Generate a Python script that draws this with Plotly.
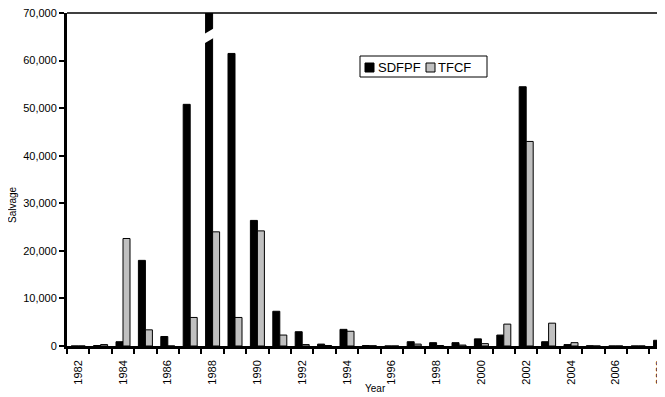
import plotly.graph_objects as go

years = list(range(1982, 2009))
sdfpf = [0, 100, 900, 18000, 2000, 50800, 120000, 61500, 26400, 7300, 3000, 400, 3500, 100,
         0, 900, 700, 700, 1500, 2300, 54500, 900, 300, 50, 0, 0, 1200]
tfcf = [0, 300, 22600, 3400, 0, 6000, 24000, 6000, 24200, 2300, 300, 100, 3100, 50,
        0, 400, 100, 200, 500, 4600, 43000, 4800, 700, 0, 0, 0, 0]
tick_years = list(range(1982, 2009, 2))
y_ticks = list(range(0, 70001, 10000))
series_names = ["SDFPF", "TFCF"]
series_colors = ["#000000", "#c0c0c0"]

BARGAP = 0.375
bar_w = (1 - BARGAP) / 2

fig = go.Figure()
for name, vals, col in zip(series_names, [sdfpf, tfcf], series_colors):
    fig.add_bar(x=years, y=vals, name=name, marker=dict(color=col, line=dict(color="#000000", width=1)))

# page body has an 8px offset; size the figure so the plot area lands at the reference position
OFF = 8
SW, SH = 665, 397           # screen size
PL, PR, PT, PB = 67, 665, 13, 346   # plot area in screen px
W, H = SW - OFF, SH - OFF
L, T = PL - OFF, PT - OFF
R = W - (PR - OFF)
B = H - (PB - OFF)
pw = PR - PL
ph = PB - PT
cat_px = 22.4


def px(sx):
    return (sx - PL) / pw


def py(sy):
    return (PB - sy) / ph


fig.update_layout(
    width=W, height=H,
    margin=dict(l=L, r=R, t=T, b=B, pad=0, autoexpand=False),
    paper_bgcolor="white", plot_bgcolor="white",
    barmode="group", bargap=BARGAP, bargroupgap=0,
    font=dict(family="Liberation Sans, Arial, sans-serif", color="black", size=11),
    showlegend=False,
    xaxis=dict(range=[years[0] - 0.5, years[0] - 0.5 + pw / cat_px], tickmode="array", tickvals=tick_years,
               ticktext=[str(y) for y in tick_years], tickangle=-90, ticks="outside", ticklen=7,
               tickcolor="rgba(0,0,0,0)", ticklabeloverflow="allow",
               showline=True, linecolor="black", linewidth=2.5, showgrid=False, zeroline=False,
               automargin=False, tickfont=dict(size=11),
               minor=dict(tickmode="array", tickvals=[y - 0.5 for y in years] + [years[-1] + 0.5],
                          ticks="outside", ticklen=5, tickwidth=2, tickcolor="black", showgrid=False)),
    yaxis=dict(range=[0, 70000], tickmode="array", tickvals=y_ticks, tickformat=",", ticks="outside",
               ticklen=5, tickwidth=2, tickcolor="black", showline=True, linecolor="black", linewidth=3,
               ticklabeloverflow="allow",
               showgrid=False, zeroline=False, automargin=False, tickfont=dict(size=11)),
)

annotations = [
    dict(text="Salvage", xref="paper", yref="paper", x=px(12), y=py(205),
         textangle=-90, showarrow=False, font=dict(size=10), xanchor="center", yanchor="middle"),
    dict(text="Year", xref="paper", yref="paper", x=px(375), y=py(396),
         showarrow=False, font=dict(size=10), xanchor="center", yanchor="bottom"),
]

shapes = [
    # top border line
    dict(type="line", xref="paper", yref="paper", x0=0, x1=1, y0=1, y1=1,
         line=dict(color="black", width=1.5)),
]

# axis break on the clipped 1988 bar
i_break = sdfpf.index(max(sdfpf))
bx0 = years[i_break] - bar_w - 0.06
bx1 = years[i_break] + 0.06
shapes.append(dict(type="path", xref="x", yref="y",
                   path=f"M {bx0},63600 L {bx1},64800 L {bx1},66800 L {bx0},65600 Z",
                   fillcolor="white", line=dict(width=0)))

# legend box (drawn to match the reference's compact legend)
shapes.append(dict(type="rect", xref="paper", yref="paper", x0=px(360), x1=px(487), y0=py(77), y1=py(56),
                   fillcolor="white", line=dict(color="black", width=1)))
legend_items = [(365, 378), (426, 438)]
for (sx, tx), name, col in zip(legend_items, series_names, series_colors):
    shapes.append(dict(type="rect", xref="paper", yref="paper", x0=px(sx), x1=px(sx + 9),
                       y0=py(72), y1=py(63), fillcolor=col, line=dict(color="black", width=1)))
    annotations.append(dict(text=name, xref="paper", yref="paper", x=px(tx), y=py(67.5),
                            xanchor="left", yanchor="middle", showarrow=False,
                            font=dict(size=13), xshift=-2))

fig.update_layout(shapes=shapes, annotations=annotations)

fig.write_html("out.html")
